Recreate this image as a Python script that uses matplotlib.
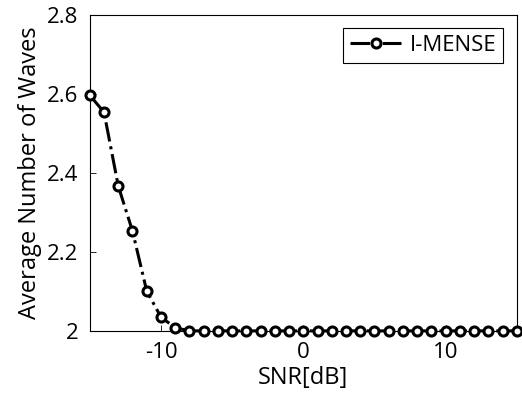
import matplotlib
matplotlib.use("Agg")
import matplotlib.pyplot as plt

snr = list(range(-15, 16))
waves = [2.597, 2.554, 2.367, 2.253, 2.101, 2.035, 2.008] + [2.0] * 24
series_label = "I-MENSE"
xticks = [-10, 0, 10]
xticklabels = ['-10', '0', '10']
yticks = [2, 2.2, 2.4, 2.6, 2.8]
yticklabels = ['2', '2.2', '2.4', '2.6', '2.8']

plt.rcParams['font.family'] = ['Open Sans', 'DejaVu Sans']
fig = plt.figure(figsize=(5.22, 4.09), dpi=100)
ax = fig.add_axes([0.172, 0.191, 0.818, 0.772])
ax.plot(snr, waves, linestyle='-.', color='black', linewidth=2.2,
        marker='o', markersize=6.5, markerfacecolor='white',
        markeredgecolor='black', markeredgewidth=2.2, label=series_label, clip_on=False, zorder=3)
ax.set_xlim(-15, 15)
ax.set_ylim(2, 2.8)
ax.set_xticks(xticks)
ax.set_xticklabels(xticklabels)
ax.set_yticks(yticks)
ax.set_yticklabels(yticklabels)
ax.tick_params(direction='in', labelsize=16, length=4, width=0.6, pad=8)
for s in ax.spines.values():
    s.set_linewidth(0.8)
ax.set_xlabel('SNR[dB]', fontsize=17, labelpad=2)
ax.set_ylabel('Average Number of Waves', fontsize=17, labelpad=4)
leg = ax.legend(loc='upper right', fontsize=16, fancybox=False, edgecolor='black',
                framealpha=1, handlelength=2.3, borderaxespad=0.6,
                borderpad=0.3, handletextpad=0.4)
leg.get_frame().set_linewidth(0.8)
fig.savefig('out.png', dpi=100)
